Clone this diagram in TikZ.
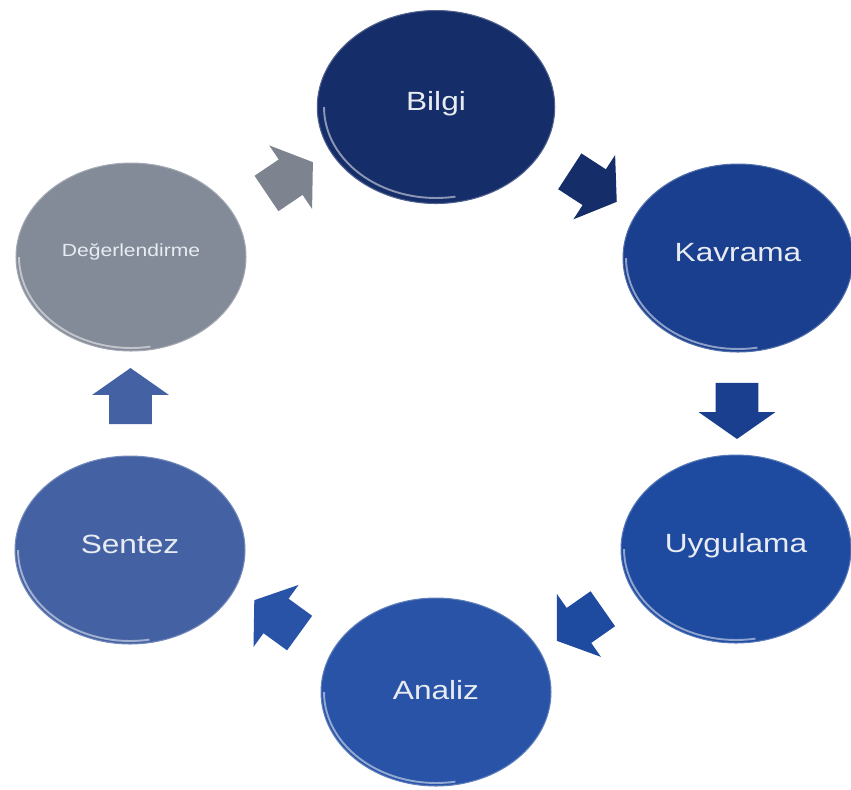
\documentclass[tikz,border=0pt]{standalone}
\usepackage{fontspec}
\newfontfamily\lblfont[FakeStretch=1.2]{Liberation Sans}
\usepackage{tikz}
\usetikzlibrary{calc,shapes.geometric,shapes.arrows}

\definecolor{bilgiC}{RGB}{21,45,104}
\definecolor{kavC}{RGB}{26,63,143}
\definecolor{uygC}{RGB}{30,74,160}
\definecolor{anaC}{RGB}{40,83,166}
\definecolor{senC}{RGB}{68,98,163}
\definecolor{degC}{RGB}{132,139,152}
\definecolor{txtC}{RGB}{232,236,242}

\begin{document}
\begin{tikzpicture}[x=0.02cm,y=-0.02cm]
	\tikzset{
		stagebox/.style={ellipse,inner sep=0pt,minimum width=4.6cm,minimum height=3.76cm,
			fill=#1,draw=#1!75!white,line width=0.6pt,text=txtC,
			font=\lblfont\fontsize{15}{18}\selectfont,text height=11pt,text depth=7pt,
			path picture={\draw[white,opacity=.5,line width=1.1pt]
				($(path picture bounding box.center)+(180:2.24cm and 1.82cm)$)
				arc[start angle=180,end angle=280,x radius=2.24cm,y radius=1.82cm];}},
		cyclearrow/.style={single arrow,fill=#1,inner xsep=0pt,inner ysep=0.42cm,
			minimum height=1.12cm,single arrow head extend=0.34cm,single arrow tip angle=110}
	}
	\useasboundingbox (0,0) rectangle (851,789);
	
	\node[stagebox=bilgiC,minimum width=4.75cm,minimum height=3.86cm] (bilgi) at (436,107) {Bilgi};
	\node[stagebox=kavC] (kavrama) at (738,258) {Kavrama};
	\node[stagebox=uygC] (uygulama) at (736,549) {Uygulama};
	\node[stagebox=anaC,text depth=2pt] (analiz) at (436,692) {Analiz};
	\node[stagebox=senC] (sentez) at (130,550) {Sentez};
	\node[stagebox=degC,font=\lblfont\fontsize{10}{12}\selectfont,text height=7pt,text depth=8pt] (deger) at (131,257) {Değerlendirme};
	
	% block arrows of the cycle
	\node[cyclearrow=degC!95!black,rotate=34] (a1) at ($(deger)!.5!(bilgi)$) {};
	\node[cyclearrow=bilgiC,rotate=-33] (a2) at ($(bilgi)!.5!(kavrama)$) {};
	\node[cyclearrow=kavC,rotate=-90] (a3) at ($(kavrama)!.5!(uygulama)$) {};
	\node[cyclearrow=uygC,rotate=215] (a4) at ($(uygulama)!.5!(analiz)$) {};
	\node[cyclearrow=anaC,rotate=144] (a5) at ($(analiz)!.5!(sentez)$) {};
	\node[cyclearrow=senC,rotate=90] (a6) at ($(sentez)!.5!(deger)$) {};
	
\end{tikzpicture}
\end{document}
